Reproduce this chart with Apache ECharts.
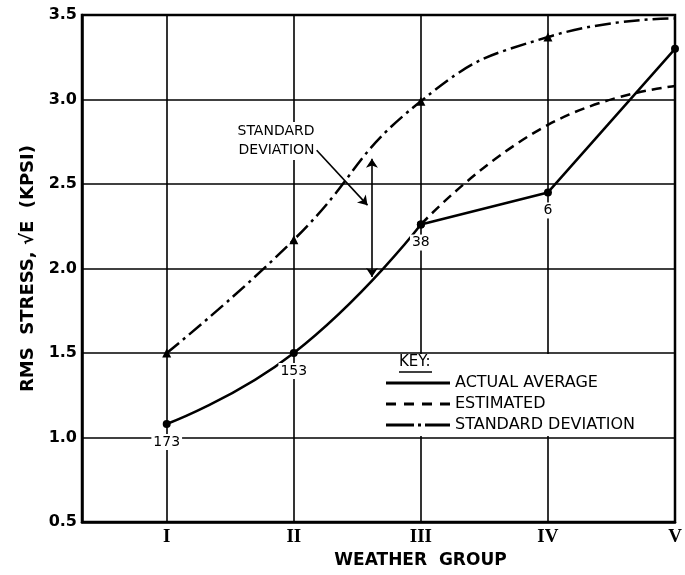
<!DOCTYPE html>
<html><head><meta charset="utf-8">
<script src="https://cdn.jsdelivr.net/npm/echarts@6/dist/echarts.min.js"></script>
<style>html,body{margin:0;padding:0;background:#fff}#c{width:685px;height:575px}</style>
</head><body><div id="c"></div>
<script>
// ---- data ----
const categories = ['I', 'II', 'III', 'IV', 'V'];
const actualAverage = [1.08, 1.50, 2.26, 2.45, 3.30];
const estimated = [null, null, 2.26, 2.85, 3.08];
const standardDeviation = [1.50, 2.17, 2.99, 3.37, 3.48];
const sampleCounts = [173, 153, 38, 6, null];
const yTicks = [0.5, 1.0, 1.5, 2.0, 2.5, 3.0, 3.5];
const sdArrow = [[2.615, 2.65], [2.615, 1.95]];
const sdLeader = [[2.18, 2.70], [2.58, 2.375]];
const sdLabelAt = [2.175, 2.755];
const sdLabelText = 'STANDARD\nDEVIATION';

const BLACK = '#000';
const FONT = 'DejaVu Sans';

function pairs(arr, from, to, withLabels, skipFirstLabel) {
  const out = [];
  for (let i = from; i < to; i++) {
    if (arr[i] == null) continue;
    const item = { value: [i + 1, arr[i]] };
    if (withLabels) {
      const show = sampleCounts[i] != null && !(skipFirstLabel && i === from);
      item.label = { show: show };
    }
    out.push(item);
  }
  return out;
}

const countLabel = {
  show: true, position: 'bottom', distance: 6,
  formatter: p => String(sampleCounts[p.value[0] - 1]),
  fontFamily: FONT, fontSize: 14, color: BLACK,
  backgroundColor: '#fff', padding: [1, 2]
};

const chart = echarts.init(document.getElementById('c'), null, { renderer: 'canvas' });
chart.setOption({
  animation: false,
  backgroundColor: '#fff',
  grid: { left: 82, right: 10, top: 15, bottom: 53, outerBoundsMode: 'none', containLabel: false, show: true, borderColor: BLACK, borderWidth: 2.5, backgroundColor: 'transparent' },
  xAxis: {
    type: 'value', min: 1 / 3, max: categories.length,
    name: 'WEATHER  GROUP', nameLocation: 'middle', nameGap: 29,
    nameTextStyle: { fontFamily: FONT, fontWeight: 'bold', fontSize: 17, color: BLACK, padding: [0, 0, 0, 84] },
    axisLine: { show: true, lineStyle: { color: BLACK, width: 2.5 } },
    axisTick: { show: false },
    splitLine: { show: false },
    axisLabel: {
      customValues: categories.map((c, i) => i + 1),
      formatter: v => categories[Math.round(v) - 1] || '',
      fontFamily: 'Liberation Serif', fontWeight: 'bold', fontSize: 19, color: BLACK, margin: 6
    }
  },
  yAxis: {
    type: 'value', min: yTicks[0], max: yTicks[yTicks.length - 1], interval: 0.5,
    name: 'RMS  STRESS, √E  (KPSI)', nameLocation: 'middle', nameGap: 45,
    nameTextStyle: { fontFamily: FONT, fontWeight: 'bold', fontSize: 18, color: BLACK },
    axisLine: { show: true, lineStyle: { color: BLACK, width: 2.5 } },
    axisTick: { show: false },
    axisLabel: { formatter: v => v.toFixed(1), fontFamily: FONT, fontWeight: 'bold', fontSize: 16, color: BLACK, margin: 5 },
    splitLine: { show: true, lineStyle: { color: BLACK, width: 1.6 } }
  },
  legend: {
    left: 384, top: 354, orient: 'vertical', backgroundColor: '#fff',
    padding: [21, 37, 3, 2], itemWidth: 64, itemHeight: 14, itemGap: 5,
    selectedMode: false,
    textStyle: { fontFamily: FONT, fontSize: 16, color: BLACK },
    data: [
      { name: 'ACTUAL AVERAGE', icon: 'path://M0,0h64v3h-64z' },
      { name: 'ESTIMATED', icon: 'path://M0,0h10v3h-10zM18,0h10v3h-10zM36,0h10v3h-10zM54,0h10v3h-10z' },
      { name: 'STANDARD DEVIATION', icon: 'path://M0,0h28v3h-28zM32,0h3v3h-3zM39,0h25v3h-25z' }
    ]
  },
  graphic: [
    { type: 'text', left: 399, top: 355, z: 10, style: { text: 'KEY:', fontFamily: FONT, fontSize: 15, fill: BLACK } },
    { type: 'line', z: 10, shape: { x1: 399, y1: 372, x2: 432, y2: 372 }, style: { stroke: BLACK, lineWidth: 1.5 } }
  ],
  series: [
    {
      name: 'ACTUAL AVERAGE', type: 'line', smooth: 0.5,
      data: pairs(actualAverage, 0, 3, true, false),
      symbol: 'circle', symbolSize: 8, itemStyle: { color: BLACK },
      lineStyle: { color: BLACK, width: 2.5 },
      label: countLabel
    },
    {
      name: 'ACTUAL AVERAGE', type: 'line', smooth: false,
      data: pairs(actualAverage, 2, 5, true, true),
      symbol: 'circle', symbolSize: 8, itemStyle: { color: BLACK },
      lineStyle: { color: BLACK, width: 2.5 },
      label: countLabel,
      markLine: {
        silent: true, z: 1, symbol: ['none', 'none'], label: { show: false },
        lineStyle: { color: BLACK, width: 1.6, type: 'solid' },
        data: categories.map((c, i) => ({ xAxis: i + 1 }))
      }
    },
    {
      name: 'ESTIMATED', type: 'line', smooth: 0.5,
      data: pairs(estimated, 0, 5, false, false),
      symbol: 'none', itemStyle: { color: BLACK },
      lineStyle: { color: BLACK, width: 2.5, type: [10, 6] }
    },
    {
      name: 'STANDARD DEVIATION', type: 'line', smooth: 0.5,
      data: pairs(standardDeviation, 0, 5, false, false),
      symbol: (v, p) => (p.dataIndex === standardDeviation.length - 1 ? 'none' : 'triangle'),
      symbolSize: 9, itemStyle: { color: BLACK },
      lineStyle: { color: BLACK, width: 2.5, type: [16, 5, 3, 5] },
      markLine: {
        silent: true, symbolSize: 9, label: { show: false },
        lineStyle: { color: BLACK, width: 1.6, type: 'solid' },
        data: [
          [{ coord: sdArrow[0], symbol: 'arrow' }, { coord: sdArrow[1], symbol: 'arrow' }],
          [{ coord: sdLeader[0], symbol: 'none' }, { coord: sdLeader[1], symbol: 'arrow' }]
        ]
      },
      markPoint: {
        silent: true, symbol: 'circle', symbolSize: 1, itemStyle: { color: 'rgba(0,0,0,0)' },
        label: {
          show: true, position: 'left', distance: 0, formatter: sdLabelText,
          fontFamily: FONT, fontSize: 14, lineHeight: 19, color: BLACK, align: 'right',
          backgroundColor: '#fff', padding: [0, 1]
        },
        data: [{ coord: sdLabelAt }]
      }
    }
  ]
});
</script></body></html>
